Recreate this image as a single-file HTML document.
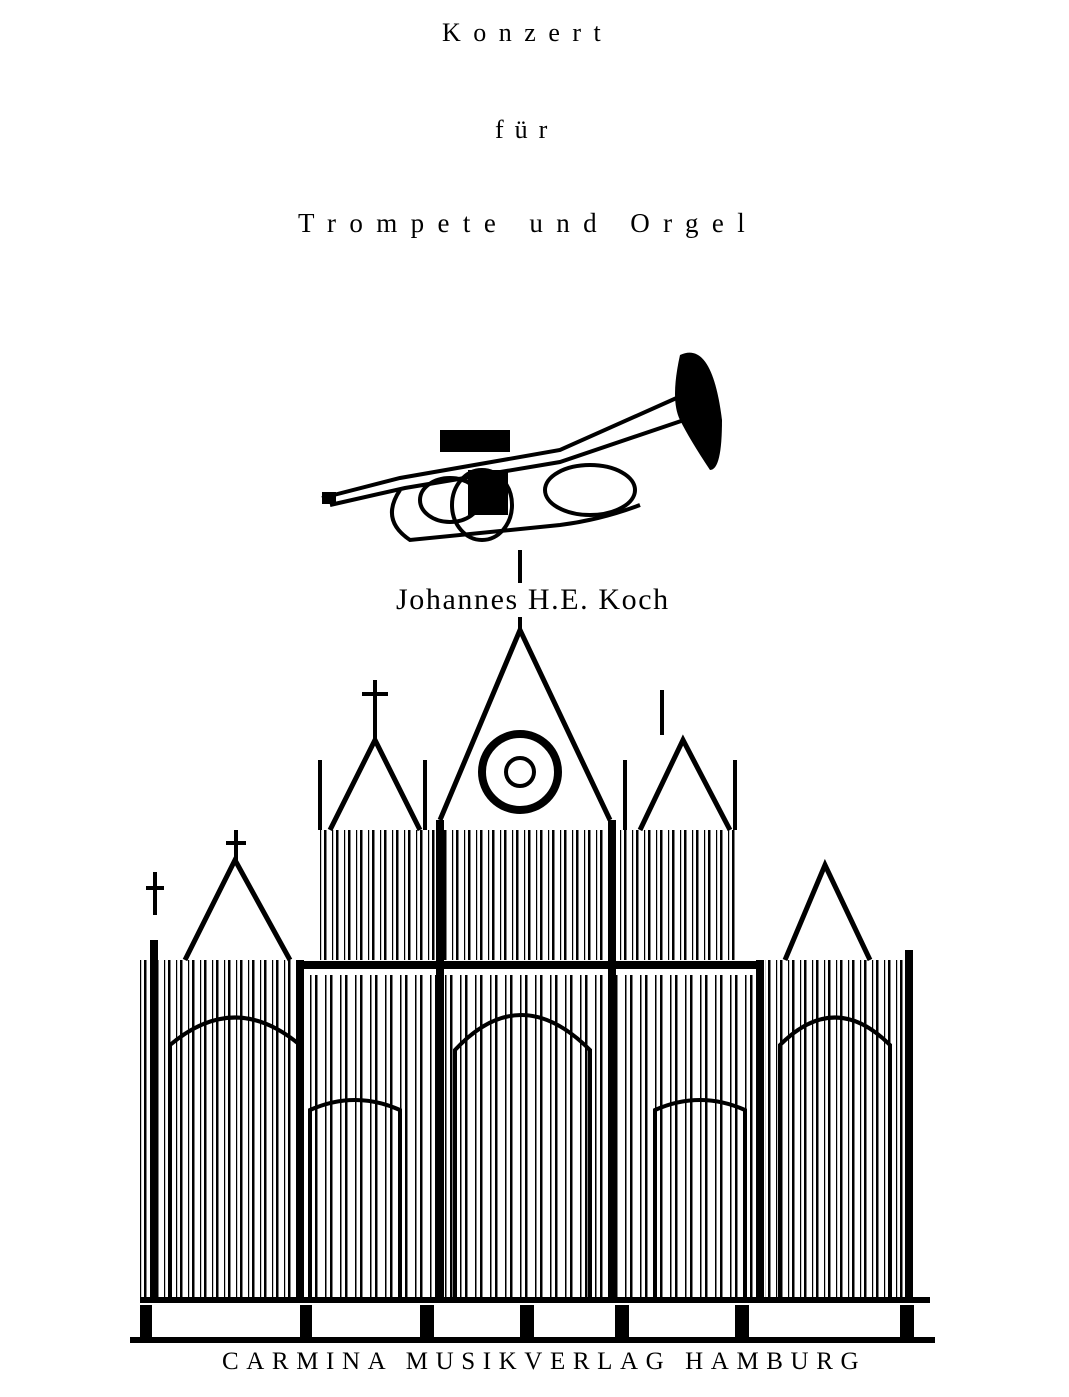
<!DOCTYPE html>
<html><head><meta charset="utf-8"><style>
html,body{margin:0;padding:0;background:#fff}
body{width:1069px;height:1397px;position:relative;overflow:hidden}
.t{position:absolute;font-family:"Liberation Serif",serif;color:#000;white-space:nowrap}
svg{position:absolute;left:0;top:0}
</style></head><body>
<svg width="1069" height="1397" viewBox="0 0 1069 1397">
<defs>
<pattern id="p" width="12" height="40" patternUnits="userSpaceOnUse">
<rect x="0" y="0" width="2.5" height="40" fill="#000"/>
<rect x="8" y="0" width="1.2" height="40" fill="#000"/>
</pattern>
<pattern id="p2" width="15" height="40" patternUnits="userSpaceOnUse">
<rect x="0" y="0" width="2.5" height="40" fill="#000"/>
<rect x="10" y="0" width="1.5" height="40" fill="#000"/>
</pattern>
</defs>
<!-- trumpet -->
<g fill="none" stroke="#000" stroke-width="4">
<path d="M322 498 L400 478 L560 450 L690 392"/>
<path d="M330 505 L405 488 L560 462 L690 418"/>
<ellipse cx="590" cy="490" rx="45" ry="25"/>
<ellipse cx="450" cy="500" rx="30" ry="22"/>
<path d="M400 490 Q380 520 410 540 L560 525 Q600 520 640 505"/>
<ellipse cx="482" cy="505" rx="30" ry="35"/>
</g>
<path d="M680 355 Q712 340 722 420 Q722 470 710 470 Q690 440 680 420 Q670 400 680 355Z" fill="#000"/>
<rect x="440" y="430" width="70" height="22" fill="#000"/>
<rect x="468" y="470" width="40" height="45" fill="#000"/>
<rect x="322" y="492" width="14" height="12" fill="#000"/>
<!-- organ: pipes fills -->
<rect x="318" y="830" width="420" height="130" fill="url(#p)"/>
<rect x="300" y="975" width="460" height="325" fill="url(#p2)"/>
<rect x="140" y="960" width="165" height="340" fill="url(#p)"/>
<rect x="765" y="960" width="145" height="340" fill="url(#p)"/>
<g fill="#fff" stroke="#000" stroke-width="4">
<path d="M455 1300 L455 1050 Q520 980 590 1050 L590 1300Z" fill="url(#p2)"/>
<path d="M170 1300 L170 1045 Q235 990 300 1045 L300 1300Z" fill="none"/>
<path d="M780 1300 L780 1045 Q835 990 890 1045 L890 1300Z" fill="none"/>
<path d="M310 1300 L310 1110 Q355 1090 400 1110 L400 1300Z" fill="none"/>
<path d="M655 1300 L655 1110 Q700 1090 745 1110 L745 1300Z" fill="none"/>
</g>
<g fill="#fff" stroke="#000" stroke-width="5">
<path d="M440 820 L520 630 L610 820"/>
<path d="M330 830 L375 740 L420 830"/>
<path d="M640 830 L683 740 L730 830"/>
<path d="M185 960 L235 860 L290 960"/>
<path d="M785 960 L825 865 L870 960"/>
</g>
<circle cx="520" cy="772" r="38" fill="#fff" stroke="#000" stroke-width="8"/>
<circle cx="520" cy="772" r="14" fill="none" stroke="#000" stroke-width="4"/>
<g stroke="#000" stroke-width="4">
<line x1="520" y1="550" x2="520" y2="635"/>
<line x1="375" y1="680" x2="375" y2="745"/><line x1="362" y1="694" x2="388" y2="694"/>
<line x1="662" y1="690" x2="662" y2="735"/>
<line x1="236" y1="830" x2="236" y2="865"/><line x1="226" y1="843" x2="246" y2="843"/>
<line x1="155" y1="872" x2="155" y2="915"/><line x1="146" y1="888" x2="164" y2="888"/>
<line x1="320" y1="760" x2="320" y2="830"/><line x1="425" y1="760" x2="425" y2="830"/>
<line x1="625" y1="760" x2="625" y2="830"/><line x1="735" y1="760" x2="735" y2="830"/>
<line x1="300" y1="965" x2="760" y2="965" stroke-width="8"/>
<line x1="140" y1="1300" x2="930" y2="1300" stroke-width="6"/>
<line x1="130" y1="1340" x2="935" y2="1340" stroke-width="6"/>
</g>
<g fill="#000">
<rect x="140" y="1305" width="12" height="35"/><rect x="300" y="1305" width="12" height="35"/>
<rect x="420" y="1305" width="14" height="35"/><rect x="520" y="1305" width="14" height="35"/>
<rect x="615" y="1305" width="14" height="35"/><rect x="735" y="1305" width="14" height="35"/>
<rect x="900" y="1305" width="14" height="35"/>
<rect x="150" y="940" width="8" height="360"/><rect x="905" y="950" width="8" height="350"/>
<rect x="296" y="960" width="8" height="340"/><rect x="756" y="960" width="8" height="340"/>
<rect x="436" y="820" width="8" height="480"/><rect x="608" y="820" width="8" height="480"/>
</g>
</svg>
<div class="t" style="left:442px;top:18px;font-size:26px;letter-spacing:12.5px">Konzert</div>
<div class="t" style="left:495px;top:115px;font-size:26px;letter-spacing:11px">für</div>
<div class="t" style="left:298px;top:208px;font-size:27px;letter-spacing:13.4px">Trompete und Orgel</div>
<div class="t" style="left:394px;top:583px;font-size:30px;letter-spacing:1.6px;background:#fff;padding:0 2px">Johannes H.E. Koch</div>
<div class="t" style="left:222px;top:1348px;font-size:25px;letter-spacing:7.6px">CARMINA MUSIKVERLAG HAMBURG</div>
</body></html>
